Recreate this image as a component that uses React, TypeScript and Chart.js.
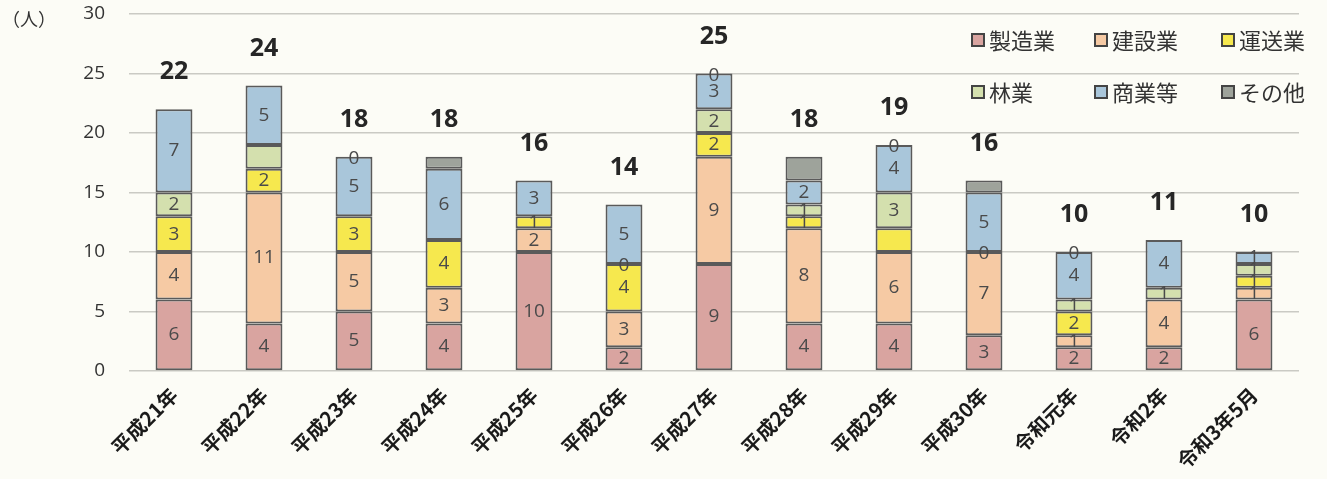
import React, { useEffect, useRef } from "react";
import { Chart, registerables } from "chart.js";

Chart.register(...registerables);

const categories = [
  "平成21年", "平成22年", "平成23年", "平成24年", "平成25年", "平成26年", "平成27年",
  "平成28年", "平成29年", "平成30年", "令和元年", "令和2年", "令和3年5月",
];
const seizo = [6, 4, 5, 4, 10, 2, 9, 4, 4, 3, 2, 2, 6];
const kensetsu = [4, 11, 5, 3, 2, 3, 9, 8, 6, 7, 1, 4, 1];
const unso = [3, 2, 3, 4, 1, 4, 2, 1, 2, 0, 2, 0, 1];
const ringyo = [2, 2, 0, 0, 0, 0, 2, 1, 3, 0, 1, 1, 1];
const shogyo = [7, 5, 5, 6, 3, 5, 3, 2, 4, 5, 4, 4, 1];
const sonota = [0, 0, 0, 1, 0, 0, 0, 2, 0, 1, 0, 0, 0];

const seriesNames = ["製造業", "建設業", "運送業", "林業", "商業等", "その他"];
const seriesValues = [seizo, kensetsu, unso, ringyo, shogyo, sonota];
const seriesColors = ["#d9a4a0", "#f6caa4", "#f6e84e", "#d4e0ae", "#a9c6da", "#9ea39b"];
const yTicks = [0, 5, 10, 15, 20, 25, 30];

// [seriesIndex, categoryIndex] of segment labels hidden / zero labels shown
const hiddenLabels: [number, number][] = [[3, 1], [5, 3], [5, 7], [2, 8], [5, 9]];
const zeroLabels: [number, number][] = [[5, 2], [3, 5], [5, 6], [5, 8], [2, 9], [5, 10]];

const totals = categories.map((_, i) => seriesValues.reduce((s, arr) => s + arr[i], 0));

const NUM_FONT = '"Open Sans", "Noto Sans", sans-serif';
const JP_FONT = '"Noto Sans CJK JP", "Noto Sans", sans-serif';

const labelPlugin = {
  id: "labelPlugin",
  afterDatasetsDraw(chart: any) {
    const ctx = chart.ctx;
    ctx.save();
    ctx.textAlign = "center";
    ctx.textBaseline = "middle";
    ctx.font = `19px ${NUM_FONT}`;
    ctx.fillStyle = "#4a4a4a";
    seriesValues.forEach((arr, si) => {
      const meta = chart.getDatasetMeta(si);
      arr.forEach((v, ci) => {
        const hidden = hiddenLabels.some(([a, b]) => a === si && b === ci);
        const zero = zeroLabels.some(([a, b]) => a === si && b === ci);
        if (hidden) return;
        if (v === 0 && !zero) return;
        const el = meta.data[ci];
        const y = (el.y + el.base) / 2;
        ctx.fillText(String(v), el.x, v === 0 ? y + 2 : y);
      });
    });
    // totals
    const lastMeta = chart.getDatasetMeta(seriesValues.length - 1);
    ctx.font = `bold 25px ${NUM_FONT}`;
    ctx.fillStyle = "#262626";
    totals.forEach((t, ci) => {
      const el = lastMeta.data[ci];
      const yTop = chart.scales.y.getPixelForValue(t);
      ctx.fillText(String(t), el.x, yTop - 37);
    });
    ctx.restore();
  },
  afterDraw(chart: any) {
    const ctx = chart.ctx;
    const area = chart.chartArea;
    ctx.save();
    // unit label
    ctx.font = `18px ${JP_FONT}`;
    ctx.fillStyle = "#333";
    ctx.textAlign = "left";
    ctx.textBaseline = "middle";
    ctx.fillText("（人）", 2, area.top + 5);
    // legend
    const cols = [area.right - 327, area.right - 204, area.right - 77];
    const rows = [area.top + 26, area.top + 78];
    ctx.font = `22px ${JP_FONT}`;
    seriesNames.forEach((name, i) => {
      const x = cols[i % 3];
      const y = rows[Math.floor(i / 3)];
      ctx.fillStyle = seriesColors[i];
      ctx.fillRect(x, y - 6, 12, 12);
      ctx.strokeStyle = "#444";
      ctx.lineWidth = 2;
      ctx.strokeRect(x, y - 6, 12, 12);
      ctx.fillStyle = "#333";
      ctx.fillText(name, x + 17, y + 1);
    });
    ctx.restore();
  },
};

const bgPlugin = {
  id: "bgPlugin",
  beforeDraw(chart: any) {
    const ctx = chart.ctx;
    ctx.save();
    ctx.fillStyle = "#fcfcf6";
    ctx.fillRect(0, 0, chart.width, chart.height);
    ctx.restore();
  },
};

export default function App() {
  const ref = useRef<HTMLCanvasElement | null>(null);
  useEffect(() => {
    if (!ref.current) return;
    const chart = new Chart(ref.current, {
      type: "bar",
      data: {
        labels: categories,
        datasets: seriesValues.map((arr, i) => ({
          label: seriesNames[i],
          data: arr,
          backgroundColor: seriesColors[i],
          borderColor: "#5a5a5a",
          borderWidth: (c: any) => (c.raw === 0 ? 0 : 2),
          borderSkipped: false,
          barPercentage: 0.41,
          categoryPercentage: 1,
        })),
      },
      options: {
        animation: false,
        responsive: false,
        maintainAspectRatio: false,
        layout: { padding: { top: 14, right: 28, left: 0, bottom: 0 } },
        plugins: { legend: { display: false }, tooltip: { enabled: false } },
        scales: {
          x: {
            stacked: true,
            grid: { display: false },
            border: { display: false },
            ticks: {
              maxRotation: 45,
              minRotation: 45,
              padding: 4,
              color: "#1a1a1a",
              font: { family: JP_FONT, size: 20, weight: "bold" },
            },
            afterFit(scale: any) {
              scale.height = 108;
              scale.paddingTop = 0;
              scale.paddingBottom = 0;
            },
          },
          y: {
            stacked: true,
            min: 0,
            max: 30,
            afterBuildTicks(scale: any) {
              scale.ticks = yTicks.map((v) => ({ value: v }));
            },
            grid: { color: "#cacac4", lineWidth: 1.5, drawTicks: false },
            border: { display: false },
            ticks: {
              padding: 24,
              color: "#333",
              font: { family: NUM_FONT, size: 19 },
            },
            afterFit(scale: any) {
              scale.width = 129;
              scale.paddingTop = 0;
              scale.paddingBottom = 0;
            },
          },
        },
      },
      plugins: [bgPlugin, labelPlugin],
    } as any);
    return () => chart.destroy();
  }, []);
  return (
    <div style={{ position: "absolute", left: 0, top: 0, width: 1327, height: 479, background: "#fcfcf6" }}>
      <canvas ref={ref} width={1327} height={479} style={{ width: 1327, height: 479 }} />
    </div>
  );
}
